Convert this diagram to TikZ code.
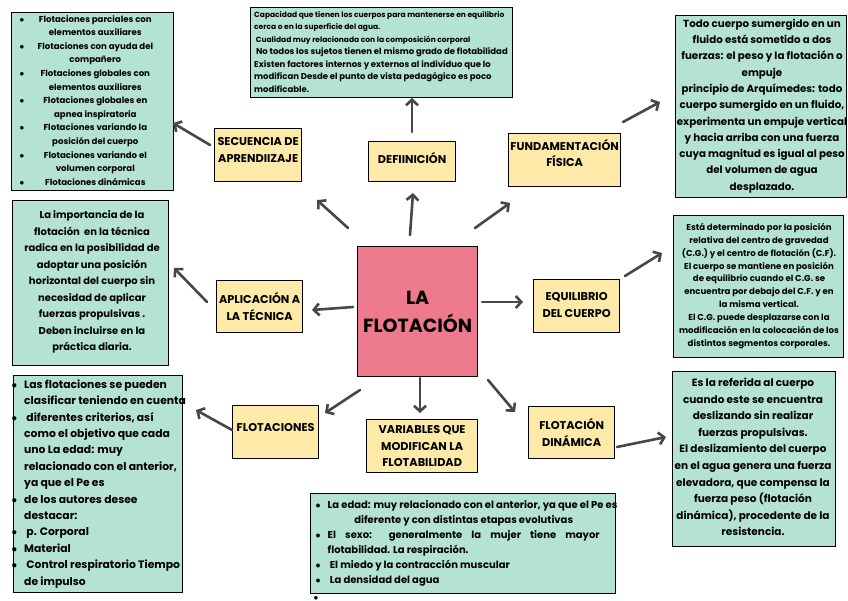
\documentclass[tikz,border=0pt]{standalone}
\usepackage{fontspec}
\setmainfont{Poppins}
\usetikzlibrary{arrows.meta}
\definecolor{gfill}{HTML}{B5E3D3}
\definecolor{yfill}{HTML}{FDE9A8}
\definecolor{pfill}{HTML}{EE7B8D}
\definecolor{agray}{HTML}{46464E}
\newcommand\bl{$\bullet$}
\begin{document}
\begin{tikzpicture}[x=1pt,y=-1pt,
  box/.style={draw=black,line width=1.3pt,anchor=north west,inner sep=0pt},
  gbox/.style={box,fill=gfill},
  ybox/.style={box,fill=yfill},
  ytxt/.style={inner sep=0pt,align=center,font=\fontsize{11.3}{16.5}\selectfont\bfseries},
  arr/.style={draw=agray,line width=2.6pt,line cap=round,-{Straight Barb[length=5.5pt,width=12pt]}},
  txt/.style={inner sep=0pt,align=center}]
\useasboundingbox (0,0) rectangle (848,600);
\fill[white] (0,0) rectangle (848,600);

% central node
\node[box,fill=pfill,minimum width=120pt,minimum height=130pt,align=center,
  font=\fontsize{19}{28}\selectfont\bfseries] (c) at (357,246) {LA\\FLOTACIÓN};

% yellow boxes
\node[ybox,minimum width=87pt,minimum height=53pt] (sec) at (214,128) {};
\node[ybox,minimum width=87pt,minimum height=40pt] (def) at (368,141) {};
\node[ybox,minimum width=112pt,minimum height=53pt] (fun) at (508,133) {};
\node[ybox,minimum width=86pt,minimum height=52pt] (apl) at (216,280) {};
\node[ybox,minimum width=86pt,minimum height=53pt] (equ) at (533,279) {};
\node[ybox,minimum width=86pt,minimum height=53pt] (flo) at (232,405) {};
\node[ybox,minimum width=111pt,minimum height=53pt] (var) at (366,419) {};
\node[ybox,minimum width=86pt,minimum height=52pt] (din) at (528,406) {};
\node[ytxt] (secT) at ([yshift=5pt]sec.center) {SECUENCIA DE\\APRENDIIZAJE};
\node[ytxt] (defT) at ([yshift=4pt]def.center) {DEFIINICIÓN};
\node[ytxt] (funT) at ([yshift=7pt]fun.center) {FUNDAMENTACIÓN\\FÍSICA};
\node[ytxt] (aplT) at (apl.center) {APLICACIÓN A\\LA TÉCNICA};
\node[ytxt] (equT) at ([yshift=1pt]equ.center) {EQUILIBRIO\\DEL CUERPO};
\node[ytxt] (floT) at ([yshift=5pt]flo.center) {FLOTACIONES};
\node[ytxt] (varT) at (var.center) {VARIABLES QUE\\MODIFICAN LA\\FLOTABILIDAD};
\node[ytxt] (dinT) at (din.center) {FLOTACIÓN\\DINÁMICA};

% green boxes
\node[gbox,minimum width=162pt,minimum height=178pt] (g1) at (11,12) {};
\node[gbox,minimum width=262pt,minimum height=90pt] (g2) at (250,7) {};
\node[gbox,minimum width=171pt,minimum height=182pt] (g3) at (675,15) {};
\node[gbox,minimum width=170pt,minimum height=142pt] (g4) at (673,215) {};
\node[gbox,minimum width=156pt,minimum height=165pt] (g5) at (12,200) {};
\node[gbox,minimum width=169pt,minimum height=217pt] (g6) at (13,375) {};
\node[gbox,minimum width=305pt,minimum height=100pt] (g7) at (310,493) {};
\node[gbox,minimum width=163pt,minimum height=175pt] (g8) at (672,371) {};

% texts of green boxes
\node[txt,anchor=west,font=\fontsize{8.6}{13.6}\selectfont\bfseries] (t1) at (19.5,101) {%
\begin{tabular}{@{}c@{\hspace{4pt}}c@{}}
\bl & \makebox[134pt]{Flotaciones parciales con}\\
    & \makebox[134pt]{elementos auxiliares}\\
\bl & \makebox[134pt]{Flotaciones con ayuda del}\\
    & \makebox[134pt]{compañero}\\
\bl & \makebox[134pt]{Flotaciones globales con}\\
    & \makebox[134pt]{elementos auxiliares}\\
\bl & \makebox[134pt]{Flotaciones globales en}\\
    & \makebox[134pt]{apnea inspiratoria}\\
\bl & \makebox[134pt]{Flotaciones variando la}\\
    & \makebox[134pt]{posición del cuerpo}\\
\bl & \makebox[134pt]{Flotaciones variando el}\\
    & \makebox[134pt]{volumen corporal}\\
\bl & \makebox[134pt]{Flotaciones dinámicas}
\end{tabular}};

\node[txt,anchor=west,font=\fontsize{8.5}{12.5}\selectfont\bfseries] (t2) at (254,52) {%
\begin{tabular}{@{}l@{}}
\fontsize{7.5}{12.5}\selectfont Capacidad que tienen los cuerpos para mantenerse en equilibrio\\
\fontsize{7.5}{12.5}\selectfont cerca o en la superficie del agua.\\
\fontsize{7.5}{12.5}\selectfont \ Cualidad muy relacionada con la composición corporal\\
\ No todos los sujetos tienen el mismo grado de flotabilidad\\
Existen factores internos y externos al individuo que lo\\
modifican Desde el punto de vista pedagógico es poco\\
modificable.
\end{tabular}};

\node[txt,font=\fontsize{10.3}{16.3}\selectfont\bfseries] (t3) at (762,106) {Todo cuerpo sumergido en un\\fluido está sometido a dos\\fuerzas: el peso y la flotación o\\empuje\\principio de Arquímedes: todo\\cuerpo sumergido en un fluido,\\experimenta un empuje vertical\\y hacia arriba con una fuerza\\cuya magnitud es igual al peso\\del volumen de agua\\desplazado.};

\node[txt,font=\fontsize{8.6}{12.9}\selectfont\bfseries] (t4) at (759,286) {Está determinado por la posición\\relativa del centro de gravedad\\(C.G.) y el centro de flotación (C.F).\\El cuerpo se mantiene en posición\\de equilibrio cuando el C.G. se\\encuentra por debajo del C.F. y en\\la misma vertical.\\El C.G. puede desplazarse con la\\modificación en la colocación de los\\distintos segmentos corporales.};

\node[txt,font=\fontsize{10}{16.5}\selectfont\bfseries] (t5) at (92,282) {La importancia de la\\flotación \ en la técnica\\radica en la posibilidad de\\adoptar una posición\\horizontal del cuerpo sin\\necesidad de aplicar\\fuerzas propulsivas .\\Deben incluirse en la\\práctica diaria.};

\node[txt,anchor=west,font=\fontsize{10.8}{16.4}\selectfont\bfseries] (t6) at (11.5,483.5) {%
\begin{tabular}{@{}c@{\hspace{7pt}}l@{}}
\bl & Las flotaciones se pueden\\
    & clasificar teniendo en cuenta\\
\bl & \ diferentes criterios, así\\
    & como el objetivo que cada\\
    & uno La edad: muy\\
    & relacionado con el anterior,\\
    & ya que el Pe es\\
\bl & de los autores desee\\
    & destacar:\\
\bl & \ p. Corporal\\
\bl & Material\\
\bl & \ Control respiratorio Tiempo\\
    & de impulso
\end{tabular}};

\node[txt,anchor=west,font=\fontsize{10}{15}\selectfont\bfseries] (t7) at (315.5,543) {%
\begin{tabular}{@{}c@{\hspace{7pt}}l@{}}
\bl & La edad: muy relacionado con el anterior, ya que el Pe es\\
    & \makebox[272pt][c]{diferente y con distintas etapas evolutivas}\\
\bl & \makebox[272pt][s]{El sexo: generalmente la mujer tiene mayor}\\
    & flotabilidad. La respiración.\\
\bl & \ El miedo y la contracción muscular\\
\bl & \ La densidad del agua
\end{tabular}};
\node[inner sep=0pt,font=\fontsize{9.5}{9.5}\selectfont] (sb) at (316,598) {\bl};

\node[txt,font=\fontsize{10.5}{16.6}\selectfont\bfseries] (t8) at (753,457) {Es la referida al cuerpo\\cuando este se encuentra\\deslizando sin realizar\\fuerzas propulsivas.\\El deslizamiento del cuerpo\\en el agua genera una fuerza\\elevadora, que compensa la\\fuerza peso (flotación\\dinámica), procedente de la\\resistencia.};

% arrows centre -> yellow boxes
\draw[arr] ([shift={(-9,-18)}]c.north west) -- ([shift={(103,72)}]sec.north west);
\draw[arr] ([shift={(53,-11)}]c.north west) -- ([shift={(45,52)}]def.north west);
\draw[arr] ([shift={(118,-18)}]c.north west) -- ([shift={(2,70)}]fun.north west);
\draw[arr] ([shift={(-4,61)}]c.north west) -- ([shift={(96,30)}]apl.north west);
\draw[arr] ([shift={(125,56)}]c.north west) -- ([shift={(-10,23)}]equ.north west);
\draw[arr] ([shift={(3,144)}]c.north west) -- ([shift={(93,8)}]flo.north west);
\draw[arr] ([shift={(63,132)}]c.north west) -- ([shift={(54,-6)}]var.north west);
\draw[arr] ([shift={(131,134)}]c.north west) -- ([shift={(-13,6)}]din.north west);

% arrows yellow -> green
\draw[arr] ([shift={(-4,17)}]sec.north west) -- ([shift={(162,111)}]g1.north west);
\draw[arr] ([shift={(44,-9)}]def.north west) -- ([shift={(162,91)}]g2.north west);
\draw[arr] ([shift={(115,-11)}]fun.north west) -- ([shift={(-15,87)}]g3.north west);
\draw[arr] ([shift={(-9,22)}]apl.north west) -- ([shift={(162,68)}]g5.north west);
\draw[arr] ([shift={(92,-3)}]equ.north west) -- ([shift={(-11,38)}]g4.north west);
\draw[arr] ([shift={(0,25)}]flo.north west) -- ([shift={(183,35)}]g6.north west);
\draw[arr] ([shift={(89,41)}]din.north west) -- ([shift={(-6,66)}]g8.north west);
\end{tikzpicture}
\end{document}
